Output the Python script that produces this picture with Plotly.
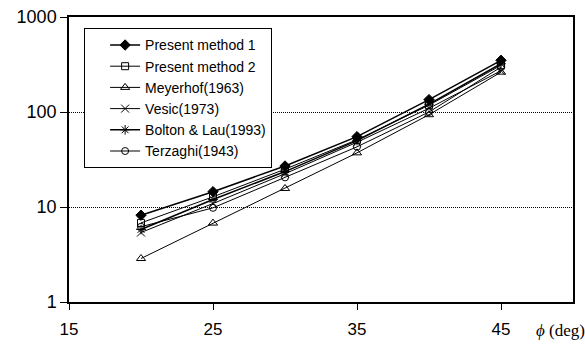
import plotly.graph_objects as go

phi = [20, 25, 30, 35, 40, 45]
present1 = [8.2, 14.5, 27, 55, 135, 350]
present2 = [6.8, 12.8, 25, 51, 118, 310]
meyerhof = [2.87, 6.77, 15.67, 37.15, 93.69, 262.74]
vesic = [5.39, 10.88, 22.40, 48.03, 109.41, 271.76]
bolton = [5.8, 12.0, 23.6, 50, 121, 322]
terzaghi = [6.2, 9.8, 20.5, 43, 100, 297]

series = [
    ("Present method 1", present1, "diamond", 1.5, 8),
    ("Present method 2", present2, "square-open", 1, 7),
    ("Meyerhof(1963)", meyerhof, "triangle-up-open", 1, 8),
    ("Vesic(1973)", vesic, "x-thin-open", 1, 8),
    ("Bolton & Lau(1993)", bolton, "asterisk-open", 1.5, 8),
    ("Terzaghi(1943)", terzaghi, "circle-open", 1, 7),
]

fig = go.Figure()
for name, vals, sym, lw, ms in series:
    fig.add_trace(go.Scatter(
        x=phi, y=vals, name=name, mode="lines+markers",
        line=dict(color="black", width=lw),
        marker=dict(symbol=sym, size=ms, color="black",
                    line=dict(color="black", width=1)),
    ))

fig.update_layout(
    width=585, height=344,
    margin=dict(l=69, r=12, t=17, b=42),
    paper_bgcolor="white", plot_bgcolor="white",
    font=dict(family="Arial, Liberation Sans, sans-serif", size=17, color="black"),
    showlegend=True,
    legend=dict(
        x=0.03, y=0.96, xanchor="left", yanchor="top",
        bgcolor="white", bordercolor="black", borderwidth=1,
        font=dict(size=14), itemwidth=30, indentation=20,
        tracegroupgap=0,
    ),
    xaxis=dict(
        range=[15, 50], tickvals=[15, 25, 35, 45], ticks="outside", ticklen=6,
        tickcolor="black", showgrid=False, zeroline=False, automargin=False,
        showline=True, linecolor="black", linewidth=1.5, mirror=True,
        tickfont=dict(size=17), ticklabelstandoff=5,
    ),
    yaxis=dict(
        type="log", range=[0, 3], tickvals=[1, 10, 100, 1000],
        ticktext=["1", "10", "100", "1000"], ticks="outside", ticklen=7,
        tickcolor="black", showgrid=True, gridcolor="black", gridwidth=1,
        griddash="1px,1px", zeroline=False, automargin=False,
        showline=True, linecolor="black", linewidth=1.5, mirror=True,
        tickfont=dict(size=18),
    ),
    annotations=[dict(
        x=1.0, y=-0.06, xref="paper", yref="paper", xanchor="right", yanchor="top",
        text="<i>ϕ</i> (deg)", showarrow=False, xshift=14,
        font=dict(family="Liberation Serif, DejaVu Serif, serif", size=17, color="black"),
    )],
)

fig.write_html("out.html")
